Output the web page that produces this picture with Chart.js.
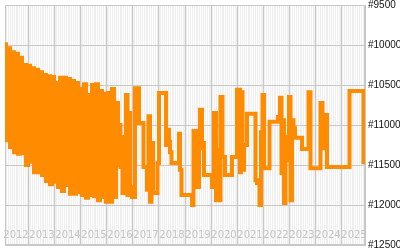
<!DOCTYPE html>
<html>
<head>
<meta charset="utf-8">
<script src="https://cdn.jsdelivr.net/npm/chart.js@4"></script>
<style>
  html, body { margin: 0; padding: 0; background: #fff; }
  #chart { display: block; }
</style>
</head>
<body>
<canvas id="chart" width="400" height="250"></canvas>
<script>
// stepped price line, reversed y axis on the right

const dates = [
  2012.038, 2012.115, 2012.192, 2012.269, 2012.346, 2012.423, 2012.500, 2012.577, 2012.654, 2012.731, 2012.808, 2012.885, 2012.962,
  2013.038, 2013.115, 2013.192, 2013.269, 2013.346, 2013.423, 2013.500, 2013.577, 2013.654, 2013.731, 2013.808, 2013.885, 2013.962,
  2014.038, 2014.115, 2014.192, 2014.269, 2014.346, 2014.423, 2014.500, 2014.577, 2014.654, 2014.731, 2014.808, 2014.885, 2014.962,
  2015.038, 2015.115, 2015.192, 2015.269, 2015.346, 2015.423, 2015.500, 2015.577, 2015.654, 2015.731, 2015.808, 2015.885, 2015.962,
  2016.038, 2016.115, 2016.192, 2016.269, 2016.346,
  2016.423, 2016.481, 2016.519, 2016.558, 2016.596, 2016.731, 2016.788, 2016.827, 2016.885, 2016.962,
  2017.077, 2017.231, 2017.404, 2017.538, 2017.596, 2017.654, 2017.712, 2017.769, 2017.942,
  2018.000, 2018.269, 2018.308, 2018.385, 2018.423, 2018.481, 2018.769, 2018.808, 2018.865,
  2019.269, 2019.327, 2019.462, 2019.538, 2019.577, 2019.654, 2019.731,
  2020.038, 2020.115, 2020.192, 2020.269, 2020.308, 2020.365, 2020.442, 2020.538, 2020.808,
  2021.000, 2021.115, 2021.154, 2021.212, 2021.269, 2021.385, 2021.712, 2021.769, 2021.865, 2021.923, 2021.981,
  2022.038, 2022.250, 2022.577, 2022.654, 2022.712, 2022.769, 2022.808, 2022.865, 2022.923,
  2023.000, 2023.058, 2023.115, 2023.173, 2023.231, 2023.500, 2023.750, 2023.827,
  2024.212, 2024.288, 2024.346, 2024.404, 2024.462,
  2025.327, 2025.865
]

const prices = [
  9990, 11190, 10040, 11275, 10090, 11340, 10110, 11360, 10160, 11350, 10250, 11500, 10260,
  11460, 10290, 11590, 10310, 11590, 10340, 11625, 10375, 11700, 10390, 11740, 10400, 11710,
  10475, 11775, 10410, 11825, 10410, 11750, 10425, 11860, 10450, 11860, 10475, 11840, 10550,
  11875, 10490, 11910, 10625, 11875, 10500, 11890, 10490, 11940, 10575, 11900, 10610, 11960,
  10600, 11960, 10550, 11900, 10725,
  11500, 11000, 11525, 11150, 11850, 10625, 11875, 10850, 11775, 11900,
  10540, 10975, 11525, 11810, 10890, 11960, 11225, 11850, 11475,
  10600, 11250, 11060, 11210, 11340, 11475, 11110, 11560, 11875,
  12000, 11075, 11775, 11290, 10810, 11225, 11625,
  11775, 10850, 11940, 11310, 11940, 10650, 11400, 11625, 11400,
  10560, 11590, 10590, 11560, 11250, 10860, 11690, 11725, 12000, 11090, 10625,
  11540, 10960, 10900, 10660, 11600, 10940, 11975, 11150, 11440,
  10650, 11940, 10940, 11040, 11160, 11300, 10590, 11540,
  10725, 11290, 11060, 10875, 11525,
  10575, 11490
]

const yearLabels = ['2012', '2013', '2014', '2015', '2016', '2017', '2018', '2019', '2020', '2021', '2022', '2023', '2024', '2025']
const priceTicks = [9500, 10000, 10500, 11000, 11500, 12000, 12500]

const X_MIN = 2012.077
const X_MAX = 2025.923
const FIRST_YEAR = 2012

function isYearStart(v) {
  return Math.abs(v - Math.round(v)) < 1e-6
}

// light plot background + frame under the line
const plotFrame = {
  id: 'plotFrame',
  beforeDraw(chart) {
    const { ctx, chartArea: a } = chart
    ctx.save()
    ctx.fillStyle = '#efefef'
    ctx.fillRect(a.left, a.top, a.right - a.left, a.bottom - a.top)
    ctx.restore()
  },
  beforeDatasetsDraw(chart) {
    const { ctx, chartArea: a } = chart
    ctx.save()
    ctx.strokeStyle = '#c8c8c8'
    ctx.lineWidth = 1
    ctx.strokeRect(a.left + 0.5, a.top + 0.5, a.right - a.left - 1, a.bottom - a.top - 1)
    ctx.restore()
  }
}

new Chart(document.getElementById('chart'), {
  type: 'line',
  data: {
    datasets: [{
      data: dates.map((d, i) => ({ x: d, y: prices[i] })),
      borderColor: '#ff8c00',
      borderWidth: 4,
      stepped: true,
      pointRadius: 0,
      fill: false,
      clip: 0
    }]
  },
  options: {
    responsive: false,
    animation: false,
    layout: { padding: { left: 5, top: 5, right: 0, bottom: 5 } },
    plugins: { legend: { display: false }, tooltip: { enabled: false } },
    scales: {
      x: {
        type: 'linear',
        position: 'bottom',
        min: X_MIN,
        max: X_MAX,
        afterBuildTicks: (scale) => {
          const ticks = []
          for (let m = 0; m < yearLabels.length * 12 + 12; m++) {
            const v = FIRST_YEAR + m / 12
            if (v >= X_MIN && v <= X_MAX) ticks.push({ value: v })
          }
          scale.ticks = ticks
        },
        afterFit: (scale) => {
          scale.height = 0
          scale.paddingLeft = 0
          scale.paddingRight = 0
        },
        grid: {
          drawTicks: false,
          color: (ctx) => (ctx.tick && isYearStart(ctx.tick.value)) ? '#c8c8c8' : '#ffffff'
        },
        border: { display: true, color: '#c8c8c8' },
        ticks: {
          autoSkip: false,
          mirror: true,
          maxRotation: 0,
          minRotation: 0,
          padding: 4,
          color: '#c4c4c4',
          font: { family: 'DejaVu Sans', size: 10 },
          callback: (value) => {
            const m = Math.round((value - FIRST_YEAR) * 12)
            return m % 12 === 6 ? yearLabels[(m - 6) / 12] : ''
          }
        }
      },
      y: {
        position: 'right',
        reverse: true,
        min: 9500,
        max: 12500,
        afterBuildTicks: (scale) => { scale.ticks = priceTicks.map(v => ({ value: v })) },
        afterFit: (scale) => {
          scale.width = 35
          scale.paddingTop = 0
          scale.paddingBottom = 0
        },
        grid: { drawTicks: false, color: '#c8c8c8' },
        border: { display: true, color: '#c8c8c8' },
        ticks: {
          padding: 3,
          color: '#111',
          font: { family: 'Liberation Sans', size: 10 },
          callback: (v) => '#' + v
        }
      }
    }
  },
  plugins: [plotFrame]
})
</script>
</body>
</html>
